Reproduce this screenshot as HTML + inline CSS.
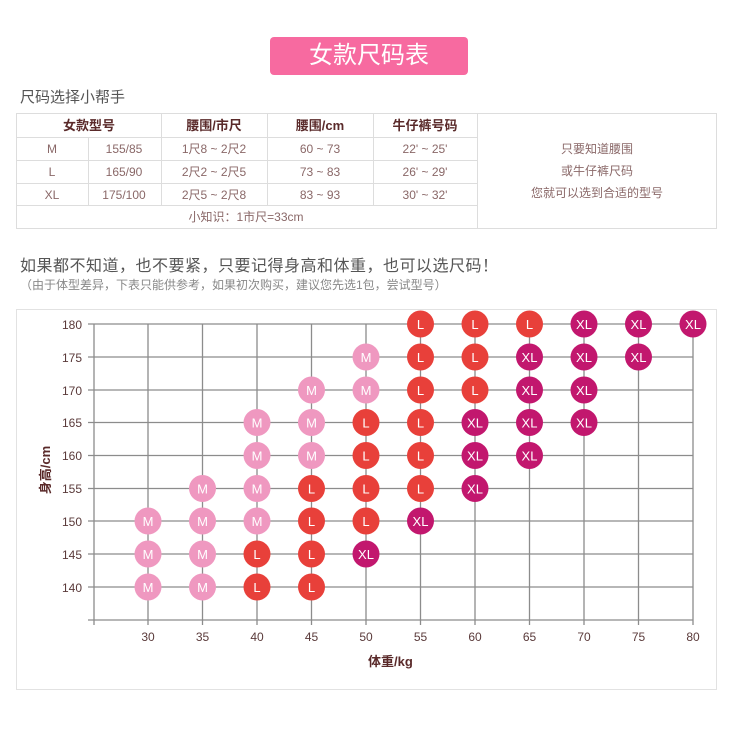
<!DOCTYPE html>
<html><head><meta charset="utf-8"><style>
body{margin:0;width:731px;height:731px;background:#fff;font-family:"Liberation Sans","Noto Sans CJK SC",sans-serif;position:relative;overflow:hidden}
.abs{position:absolute}
</style></head><body>
<div class="abs" style="left:270px;top:37px;width:198px;height:38px;background:#f76aa0;border-radius:4px;color:#fff;font-size:24px;line-height:38px;text-align:center;">女款尺码表</div>
<div class="abs" style="left:20px;top:86px;font-size:15px;color:#555;">尺码选择小帮手</div>
<svg class="abs" style="left:0;top:0" width="731" height="731" font-family="Liberation Sans, Noto Sans CJK SC, sans-serif">
<g stroke="#ddd" stroke-width="1" fill="none">
<rect x="16.5" y="113.5" width="700" height="115"/>
<line x1="16" y1="137.5" x2="477" y2="137.5"/>
<line x1="16" y1="160.5" x2="477" y2="160.5"/>
<line x1="16" y1="183.5" x2="477" y2="183.5"/>
<line x1="16" y1="205.5" x2="477" y2="205.5"/>
<line x1="88.5" y1="137" x2="88.5" y2="205"/>
<line x1="161.5" y1="113" x2="161.5" y2="205"/>
<line x1="267.5" y1="113" x2="267.5" y2="205"/>
<line x1="373.5" y1="113" x2="373.5" y2="205"/>
<line x1="477.5" y1="113" x2="477.5" y2="228"/>
</g>
<g font-size="13" font-weight="bold" fill="#5a2a2a" text-anchor="middle">
<text x="89" y="130">女款型号</text><text x="214" y="130">腰围/市尺</text><text x="320" y="130">腰围/cm</text><text x="425" y="130">牛仔裤号码</text>
</g>
<g font-size="12" fill="#8a6868" text-anchor="middle">
<text x="52" y="153">M</text><text x="124" y="153">155/85</text><text x="214" y="153">1尺8 ~ 2尺2</text><text x="320" y="153">60 ~ 73</text><text x="425" y="153">22' ~ 25'</text>
<text x="52" y="176">L</text><text x="124" y="176">165/90</text><text x="214" y="176">2尺2 ~ 2尺5</text><text x="320" y="176">73 ~ 83</text><text x="425" y="176">26' ~ 29'</text>
<text x="52" y="199">XL</text><text x="124" y="199">175/100</text><text x="214" y="199">2尺5 ~ 2尺8</text><text x="320" y="199">83 ~ 93</text><text x="425" y="199">30' ~ 32'</text>
<text x="246" y="221">小知识：1市尺=33cm</text>
<text x="597" y="153">只要知道腰围</text><text x="597" y="175">或牛仔裤尺码</text><text x="597" y="197">您就可以选到合适的型号</text>
</g>
<text x="20" y="271" font-size="16" fill="#555" letter-spacing="0.5">如果都不知道，也不要紧，只要记得身高和体重，也可以选尺码！</text>
<text x="20" y="289" font-size="12" fill="#888">（由于体型差异，下表只能供参考，如果初次购买，建议您先选1包，尝试型号）</text>
<rect x="16.5" y="309.5" width="700" height="380" fill="none" stroke="#e2e2e2"/>
<g stroke="#8c8c8c" stroke-width="1.3">
<line x1="88" y1="324" x2="693" y2="324"/><line x1="88" y1="357" x2="693" y2="357"/><line x1="88" y1="390" x2="693" y2="390"/><line x1="88" y1="422.5" x2="693" y2="422.5"/><line x1="88" y1="455.5" x2="693" y2="455.5"/><line x1="88" y1="488.5" x2="693" y2="488.5"/><line x1="88" y1="521" x2="693" y2="521"/><line x1="88" y1="554" x2="693" y2="554"/><line x1="88" y1="587" x2="693" y2="587"/><line x1="88" y1="620" x2="693" y2="620"/>
<line x1="94" y1="324" x2="94" y2="625"/><line x1="148" y1="324" x2="148" y2="625"/><line x1="202.5" y1="324" x2="202.5" y2="625"/><line x1="257" y1="324" x2="257" y2="625"/><line x1="311.5" y1="324" x2="311.5" y2="625"/><line x1="366" y1="324" x2="366" y2="625"/><line x1="420.5" y1="324" x2="420.5" y2="625"/><line x1="475" y1="324" x2="475" y2="625"/><line x1="529.5" y1="324" x2="529.5" y2="625"/><line x1="584" y1="324" x2="584" y2="625"/><line x1="638.5" y1="324" x2="638.5" y2="625"/><line x1="693" y1="324" x2="693" y2="625"/>
</g>
<g font-size="12" fill="#5a3a3a" text-anchor="end">
<text x="82" y="329">180</text><text x="82" y="362">175</text><text x="82" y="395">170</text><text x="82" y="427">165</text><text x="82" y="460">160</text><text x="82" y="493">155</text><text x="82" y="526">150</text><text x="82" y="559">145</text><text x="82" y="592">140</text>
</g>
<g font-size="12" fill="#5a3a3a" text-anchor="middle">
<text x="148" y="641">30</text><text x="202.5" y="641">35</text><text x="257" y="641">40</text><text x="311.5" y="641">45</text><text x="366" y="641">50</text><text x="420.5" y="641">55</text><text x="475" y="641">60</text><text x="529.5" y="641">65</text><text x="584" y="641">70</text><text x="638.5" y="641">75</text><text x="693" y="641">80</text>
</g>
<text x="368" y="666" font-size="13" font-weight="bold" fill="#5a2a2a">体重/kg</text>
<text transform="translate(50,470) rotate(-90)" font-size="13" font-weight="bold" fill="#5a2a2a" text-anchor="middle">身高/cm</text>
<g font-size="13" fill="#fff" text-anchor="middle">
<!-- M -->
<g fill="#ef98c0">
<circle cx="366" cy="357" r="13.5"/><circle cx="311.5" cy="390" r="13.5"/><circle cx="366" cy="390" r="13.5"/>
<circle cx="257" cy="422.5" r="13.5"/><circle cx="311.5" cy="422.5" r="13.5"/>
<circle cx="257" cy="455.5" r="13.5"/><circle cx="311.5" cy="455.5" r="13.5"/>
<circle cx="202.5" cy="488.5" r="13.5"/><circle cx="257" cy="488.5" r="13.5"/>
<circle cx="148" cy="521" r="13.5"/><circle cx="202.5" cy="521" r="13.5"/><circle cx="257" cy="521" r="13.5"/>
<circle cx="148" cy="554" r="13.5"/><circle cx="202.5" cy="554" r="13.5"/>
<circle cx="148" cy="587" r="13.5"/><circle cx="202.5" cy="587" r="13.5"/>
</g>
<g>
<text x="366" y="362">M</text><text x="311.5" y="395">M</text><text x="366" y="395">M</text>
<text x="257" y="427.5">M</text><text x="311.5" y="427.5">M</text>
<text x="257" y="460.5">M</text><text x="311.5" y="460.5">M</text>
<text x="202.5" y="493.5">M</text><text x="257" y="493.5">M</text>
<text x="148" y="526">M</text><text x="202.5" y="526">M</text><text x="257" y="526">M</text>
<text x="148" y="559">M</text><text x="202.5" y="559">M</text>
<text x="148" y="592">M</text><text x="202.5" y="592">M</text>
</g>
<!-- L -->
<g fill="#e8403a">
<circle cx="420.5" cy="324" r="13.5"/><circle cx="475" cy="324" r="13.5"/><circle cx="529.5" cy="324" r="13.5"/>
<circle cx="420.5" cy="357" r="13.5"/><circle cx="475" cy="357" r="13.5"/>
<circle cx="420.5" cy="390" r="13.5"/><circle cx="475" cy="390" r="13.5"/>
<circle cx="366" cy="422.5" r="13.5"/><circle cx="420.5" cy="422.5" r="13.5"/>
<circle cx="366" cy="455.5" r="13.5"/><circle cx="420.5" cy="455.5" r="13.5"/>
<circle cx="311.5" cy="488.5" r="13.5"/><circle cx="366" cy="488.5" r="13.5"/><circle cx="420.5" cy="488.5" r="13.5"/>
<circle cx="311.5" cy="521" r="13.5"/><circle cx="366" cy="521" r="13.5"/>
<circle cx="257" cy="554" r="13.5"/><circle cx="311.5" cy="554" r="13.5"/>
<circle cx="257" cy="587" r="13.5"/><circle cx="311.5" cy="587" r="13.5"/>
</g>
<g>
<text x="420.5" y="329">L</text><text x="475" y="329">L</text><text x="529.5" y="329">L</text>
<text x="420.5" y="362">L</text><text x="475" y="362">L</text>
<text x="420.5" y="395">L</text><text x="475" y="395">L</text>
<text x="366" y="427.5">L</text><text x="420.5" y="427.5">L</text>
<text x="366" y="460.5">L</text><text x="420.5" y="460.5">L</text>
<text x="311.5" y="493.5">L</text><text x="366" y="493.5">L</text><text x="420.5" y="493.5">L</text>
<text x="311.5" y="526">L</text><text x="366" y="526">L</text>
<text x="257" y="559">L</text><text x="311.5" y="559">L</text>
<text x="257" y="592">L</text><text x="311.5" y="592">L</text>
</g>
<!-- XL -->
<g fill="#c2176e">
<circle cx="584" cy="324" r="13.5"/><circle cx="638.5" cy="324" r="13.5"/><circle cx="693" cy="324" r="13.5"/>
<circle cx="529.5" cy="357" r="13.5"/><circle cx="584" cy="357" r="13.5"/><circle cx="638.5" cy="357" r="13.5"/>
<circle cx="529.5" cy="390" r="13.5"/><circle cx="584" cy="390" r="13.5"/>
<circle cx="475" cy="422.5" r="13.5"/><circle cx="529.5" cy="422.5" r="13.5"/><circle cx="584" cy="422.5" r="13.5"/>
<circle cx="475" cy="455.5" r="13.5"/><circle cx="529.5" cy="455.5" r="13.5"/>
<circle cx="475" cy="488.5" r="13.5"/>
<circle cx="420.5" cy="521" r="13.5"/>
<circle cx="366" cy="554" r="13.5"/>
</g>
<g>
<text x="584" y="329">XL</text><text x="638.5" y="329">XL</text><text x="693" y="329">XL</text>
<text x="529.5" y="362">XL</text><text x="584" y="362">XL</text><text x="638.5" y="362">XL</text>
<text x="529.5" y="395">XL</text><text x="584" y="395">XL</text>
<text x="475" y="427.5">XL</text><text x="529.5" y="427.5">XL</text><text x="584" y="427.5">XL</text>
<text x="475" y="460.5">XL</text><text x="529.5" y="460.5">XL</text>
<text x="475" y="493.5">XL</text>
<text x="420.5" y="526">XL</text>
<text x="366" y="559">XL</text>
</g>
</g>
</svg>
</body></html>
